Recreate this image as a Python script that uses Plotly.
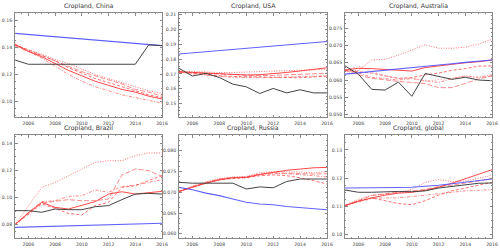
import plotly.graph_objects as go

years = list(range(2005, 2017))

# ---- China ----
china_obs = [0.1306, 0.1275, 0.1275, 0.1275, 0.1275, 0.1275, 0.1275, 0.1275, 0.1275, 0.1275, 0.1417, 0.1412]
china_blue = [0.1502, 0.1494, 0.1486, 0.1478, 0.1470, 0.1461, 0.1453, 0.1445, 0.1437, 0.1429, 0.1420, 0.1412]
china_red = [
    [0.142, 0.137, 0.133, 0.128, 0.123, 0.119, 0.115, 0.112, 0.109, 0.107, 0.104, 0.102],
    [0.142, 0.138, 0.135, 0.131, 0.128, 0.124, 0.120, 0.117, 0.114, 0.111, 0.108, 0.106],
    [0.142, 0.138, 0.134, 0.130, 0.125, 0.121, 0.117, 0.114, 0.111, 0.108, 0.105, 0.103],
    [0.142, 0.137, 0.132, 0.126, 0.120, 0.115, 0.111, 0.108, 0.105, 0.103, 0.101, 0.099],
    [0.141, 0.137, 0.134, 0.130, 0.126, 0.122, 0.119, 0.116, 0.113, 0.109, 0.107, 0.104],
]

# ---- USA ----
usa_obs = [0.1738, 0.1686, 0.1704, 0.1676, 0.1631, 0.1613, 0.1568, 0.1602, 0.1572, 0.1593, 0.1572, 0.1572]
usa_blue = [0.1835, 0.1843, 0.1850, 0.1858, 0.1865, 0.1873, 0.1881, 0.1888, 0.1896, 0.1904, 0.1911, 0.1919]
usa_red = [
    [0.1715, 0.1710, 0.1705, 0.1700, 0.1695, 0.1693, 0.1695, 0.1700, 0.1710, 0.1720, 0.1730, 0.1742],
    [0.1720, 0.1715, 0.1712, 0.1710, 0.1710, 0.1712, 0.1715, 0.1720, 0.1722, 0.1725, 0.1728, 0.1732],
    [0.1715, 0.1705, 0.1695, 0.1688, 0.1683, 0.1680, 0.1678, 0.1677, 0.1676, 0.1675, 0.1678, 0.1685],
    [0.1710, 0.1700, 0.1690, 0.1683, 0.1678, 0.1675, 0.1675, 0.1676, 0.1678, 0.1680, 0.1684, 0.1688],
    [0.1712, 0.1708, 0.1702, 0.1698, 0.1693, 0.1690, 0.1688, 0.1690, 0.1693, 0.1697, 0.1700, 0.1705],
]

# ---- Australia ----
aus_obs = [0.0641, 0.0617, 0.0573, 0.0571, 0.0594, 0.0553, 0.0619, 0.0611, 0.0602, 0.0608, 0.0600, 0.0598]
aus_blue = [0.0617, 0.0621, 0.0625, 0.0628, 0.0632, 0.0636, 0.0640, 0.0643, 0.0647, 0.0651, 0.0654, 0.0658]
aus_red = [
    [0.0629, 0.0634, 0.0633, 0.0631, 0.0629, 0.0626, 0.0636, 0.0641, 0.0646, 0.0650, 0.0653, 0.0658],
    [0.0627, 0.0628, 0.0658, 0.0660, 0.0672, 0.0687, 0.0702, 0.0692, 0.0692, 0.0695, 0.0704, 0.0718],
    [0.0628, 0.0625, 0.0620, 0.0612, 0.0605, 0.0607, 0.0615, 0.0620, 0.0628, 0.0633, 0.0640, 0.0641],
    [0.0630, 0.0621, 0.0608, 0.0605, 0.0600, 0.0604, 0.0598, 0.0593, 0.0604, 0.0612, 0.0608, 0.0615],
    [0.0628, 0.0615, 0.0605, 0.0600, 0.0596, 0.0593, 0.0590, 0.0578, 0.0578, 0.0590, 0.0603, 0.0612],
    [0.0627, 0.0640, 0.0625, 0.0612, 0.0604, 0.0606, 0.0596, 0.0600, 0.0606, 0.0611, 0.0606, 0.0612],
]

# ---- Brazil ----
bra_obs = [0.0903, 0.0903, 0.0891, 0.0915, 0.0910, 0.0910, 0.0932, 0.0940, 0.0984, 0.1025, 0.1030, 0.1025]
bra_blue = [0.0780, 0.0783, 0.0785, 0.0788, 0.0791, 0.0794, 0.0796, 0.0799, 0.0802, 0.0805, 0.0807, 0.0810]
bra_red = [
    [0.0800, 0.0886, 0.0964, 0.0927, 0.0915, 0.0940, 0.0969, 0.1025, 0.1042, 0.1025, 0.1033, 0.1045],
    [0.0800, 0.0940, 0.1074, 0.1110, 0.1160, 0.1210, 0.1258, 0.1270, 0.1270, 0.1307, 0.1327, 0.1327],
    [0.0800, 0.0878, 0.0952, 0.0920, 0.0883, 0.0871, 0.0940, 0.0964, 0.1074, 0.1087, 0.1123, 0.1160],
    [0.0800, 0.0891, 0.0969, 0.0976, 0.1008, 0.1013, 0.1055, 0.1038, 0.1079, 0.1091, 0.1111, 0.1131],
    [0.0800, 0.0886, 0.0959, 0.0969, 0.0984, 0.0976, 0.0976, 0.0989, 0.1165, 0.1209, 0.1197, 0.1155],
]

# ---- Russia ----
rus_obs = [0.0724, 0.0722, 0.0722, 0.0722, 0.0722, 0.0708, 0.0713, 0.0711, 0.0726, 0.0732, 0.0732, 0.0732]
rus_blue = [0.0712, 0.0706, 0.0698, 0.0692, 0.0684, 0.0676, 0.0672, 0.0670, 0.0666, 0.0663, 0.0660, 0.0658]
rus_red = [
    [0.0702, 0.0712, 0.0722, 0.0730, 0.0735, 0.0736, 0.0743, 0.0748, 0.0753, 0.0756, 0.0759, 0.0760],
    [0.0702, 0.0715, 0.0725, 0.0733, 0.0737, 0.0738, 0.0747, 0.0750, 0.0750, 0.0748, 0.0747, 0.0750],
    [0.0702, 0.0713, 0.0722, 0.0730, 0.0733, 0.0735, 0.0740, 0.0742, 0.0740, 0.0735, 0.0728, 0.0720],
    [0.0702, 0.0714, 0.0724, 0.0732, 0.0736, 0.0736, 0.0742, 0.0745, 0.0745, 0.0743, 0.0740, 0.0737],
    [0.0702, 0.0713, 0.0723, 0.0731, 0.0735, 0.0737, 0.0744, 0.0747, 0.0746, 0.0744, 0.0744, 0.0745],
]

# ---- Global ----
glo_obs = [0.1158, 0.1150, 0.1150, 0.1152, 0.1153, 0.1152, 0.1155, 0.1165, 0.1170, 0.1176, 0.1182, 0.1183]
glo_blue = [0.1165, 0.1165, 0.1166, 0.1166, 0.1167, 0.1168, 0.1171, 0.1175, 0.1180, 0.1185, 0.1191, 0.1197]
glo_red = [
    [0.1103, 0.1118, 0.1130, 0.1140, 0.1147, 0.1150, 0.1157, 0.1168, 0.1182, 0.1198, 0.1213, 0.1230],
    [0.1103, 0.1125, 0.1140, 0.1143, 0.1150, 0.1160, 0.1185, 0.1195, 0.1188, 0.1190, 0.1200, 0.1210],
    [0.1103, 0.1120, 0.1130, 0.1120, 0.1110, 0.1106, 0.1120, 0.1140, 0.1155, 0.1165, 0.1175, 0.1185],
    [0.1103, 0.1115, 0.1128, 0.1130, 0.1130, 0.1135, 0.1140, 0.1145, 0.1152, 0.1155, 0.1157, 0.1160],
    [0.1103, 0.1120, 0.1138, 0.1145, 0.1150, 0.1155, 0.1160, 0.1170, 0.1175, 0.1183, 0.1190, 0.1200],
]

titles = ["Cropland, China", "Cropland, USA", "Cropland, Australia",
          "Cropland, Brazil", "Cropland, Russia", "Cropland, global"]
y_ranges = [[0.0887, 0.1652], [0.1409, 0.2112], [0.0493, 0.0794],
            [0.0702, 0.1459], [0.0590, 0.0838], [0.0988, 0.1353]]
y_dticks = [0.02, 0.01, 0.005, 0.02, 0.005, 0.01]
y_formats = [".2f", ".2f", ".3f", ".2f", ".3f", ".2f"]

panels = [
    (china_obs, china_blue, china_red),
    (usa_obs, usa_blue, usa_red),
    (aus_obs, aus_blue, aus_red),
    (bra_obs, bra_blue, bra_red),
    (rus_obs, rus_blue, rus_red),
    (glo_obs, glo_blue, glo_red),
]

W, H = 500, 252
x_px = [(15, 162), (179, 327), (345, 492)]
y_px = [(13, 117), (135, 238)]

red_styles = [
    ("solid", "rgba(255,0,0,0.8)"),
    ("1px,1.5px", "rgba(255,50,50,0.75)"),
    ("3px,2px", "rgba(255,40,40,0.75)"),
    ("3px,1.5px,1px,1.5px", "rgba(255,70,70,0.7)"),
    ("5px,2px", "rgba(255,60,60,0.65)"),
    ("1px,2px", "rgba(255,80,80,0.7)"),
]

fig = go.Figure()
annotations = []
for i, (obs, blue, reds) in enumerate(panels):
    r, c = divmod(i, 3)
    n = i + 1
    xa = "x" if n == 1 else f"x{n}"
    ya = "y" if n == 1 else f"y{n}"
    for k, series in enumerate(reds):
        dash, col = red_styles[k % len(red_styles)]
        fig.add_trace(go.Scatter(x=years, y=series, mode="lines", xaxis=xa, yaxis=ya,
                                 line=dict(color=col, width=0.9, dash=dash), showlegend=False))
    fig.add_trace(go.Scatter(x=years, y=blue, mode="lines", xaxis=xa, yaxis=ya,
                             line=dict(color="rgba(80,80,255,0.9)", width=1.1), showlegend=False))
    fig.add_trace(go.Scatter(x=years, y=obs, mode="lines", xaxis=xa, yaxis=ya,
                             line=dict(color="#444444", width=1), showlegend=False))

    x0, x1 = x_px[c]
    y0, y1 = y_px[r]
    axis_common = dict(showline=True, linecolor="#888", linewidth=1, mirror="ticks",
                       ticks="inside", ticklen=2.5, tickcolor="#888", showgrid=False,
                       zeroline=False, automargin=False,
                       tickfont=dict(size=4.6, color="#444", family="DejaVu Sans"))
    fig.layout[f"xaxis{'' if n == 1 else n}"] = dict(
        domain=[x0 / W, x1 / W], anchor=ya, range=[2005, 2016],
        tick0=2006, dtick=2, ticklabelstandoff=1,
        minor=dict(dtick=0.5, ticks="inside", ticklen=1.3, tickcolor="#888"),
        **axis_common)
    fig.layout[f"yaxis{'' if n == 1 else n}"] = dict(
        domain=[1 - y1 / H, 1 - y0 / H], anchor=xa, range=y_ranges[i],
        dtick=y_dticks[i], tickformat=y_formats[i], ticklabelstandoff=1,
        minor=dict(dtick=y_dticks[i] / 4, ticks="inside", ticklen=1.3, tickcolor="#888"),
        **axis_common)
    annotations.append(dict(text=titles[i], x=(x0 + x1) / 2 / W, y=1 - (y0 - 1) / H,
                            xref="paper", yref="paper", xanchor="center", yanchor="bottom",
                            showarrow=False, font=dict(size=6.2, color="#333", family="DejaVu Sans")))

fig.update_layout(width=W, height=H, margin=dict(l=0, r=0, t=0, b=0),
                  paper_bgcolor="white", plot_bgcolor="white", annotations=annotations)
fig.write_html("out.html", config={"displayModeBar": False},
               post_script="document.body.style.margin='0';document.body.style.overflow='hidden';")
